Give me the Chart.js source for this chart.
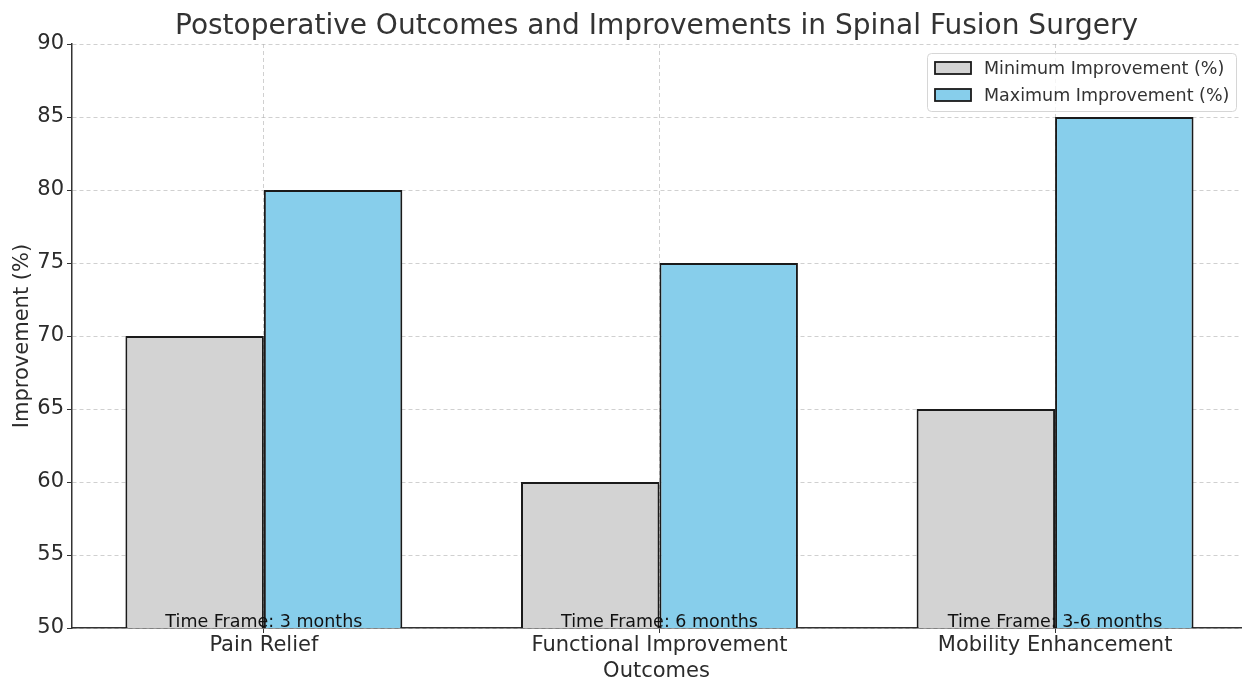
<!DOCTYPE html>
<html>
<head>
<meta charset="utf-8">
<script src="https://cdn.jsdelivr.net/npm/chart.js@4/dist/chart.umd.min.js"></script>
<style>
  html, body { margin: 0; padding: 0; background: #fff; }
  #wrap { width: 1243px; height: 682px; }
</style>
</head>
<body>
<div id="wrap"><canvas id="c" width="1243" height="682"></canvas></div>
<script>
// Outcome categories and their improvement ranges (%)
const outcomes = ['Pain Relief', 'Functional Improvement', 'Mobility Enhancement'];
const minImprovement = [70, 60, 65];
const maxImprovement = [80, 75, 85];
const timeFrames = ['Time Frame: 3 months', 'Time Frame: 6 months', 'Time Frame: 3-6 months'];
const yTickValues = [50, 55, 60, 65, 70, 75, 80, 85, 90];

const FONT = "'DejaVu Sans', 'Liberation Sans', sans-serif";
const TEXT = '#2b2b2b';

// Title centred over the plotting area
const titlePlugin = {
  id: 'plotTitle',
  afterDraw(chart) {
    const { ctx, chartArea } = chart;
    ctx.save();
    ctx.font = `28px ${FONT}`;
    ctx.fillStyle = '#333';
    ctx.textAlign = 'center';
    ctx.textBaseline = 'alphabetic';
    ctx.fillText('Postoperative Outcomes and Improvements in Spinal Fusion Surgery',
      (chartArea.left + chartArea.right) / 2, 34);
    ctx.restore();
  }
};

// "Time Frame" notes sitting on the baseline of each category
const timeFramePlugin = {
  id: 'timeFrames',
  afterDraw(chart) {
    const { ctx } = chart;
    const xs = chart.scales.x, ys = chart.scales.y;
    ctx.save();
    ctx.font = `17.5px ${FONT}`;
    ctx.fillStyle = '#111';
    ctx.textAlign = 'center';
    ctx.textBaseline = 'alphabetic';
    timeFrames.forEach((t, i) => {
      ctx.fillText(t, xs.getPixelForValue(i), ys.getPixelForValue(ys.min) - 1);
    });
    ctx.restore();
  }
};

// Legend box in the upper-right corner
const legendPlugin = {
  id: 'boxLegend',
  afterDraw(chart) {
    const { ctx, chartArea } = chart;
    const sets = chart.data.datasets;
    const right = chartArea.right - 5, top = chartArea.top + 9;
    const w = 309, h = 58;
    const left = right - w;
    ctx.save();
    ctx.fillStyle = 'rgba(255,255,255,0.8)';
    ctx.strokeStyle = '#d6d6d6';
    ctx.lineWidth = 1;
    ctx.beginPath();
    ctx.roundRect(left + 0.5, top + 0.5, w, h, 4);
    ctx.fill();
    ctx.stroke();
    ctx.font = `17.5px ${FONT}`;
    ctx.textBaseline = 'middle';
    ctx.textAlign = 'left';
    sets.forEach((ds, i) => {
      const cy = top + 15 + i * 27;
      ctx.fillStyle = ds.backgroundColor;
      ctx.fillRect(left + 8, cy - 6, 36, 12);
      ctx.strokeStyle = '#1a1a1a';
      ctx.lineWidth = 1.8;
      ctx.strokeRect(left + 8, cy - 6, 36, 12);
      ctx.fillStyle = '#333';
      ctx.fillText(ds.label, left + 57, cy + 1);
    });
    ctx.restore();
  }
};

const gridColor = 'rgba(176,176,176,0.6)';

new Chart(document.getElementById('c'), {
  type: 'bar',
  data: {
    datasets: [
      {
        label: 'Minimum Improvement (%)',
        data: outcomes.map((_, i) => ({ x: i, y: minImprovement[i] })),
        backgroundColor: '#d3d3d3',
        borderColor: '#1a1a1a',
        borderWidth: 2,
        borderSkipped: 'start'
      },
      {
        label: 'Maximum Improvement (%)',
        data: outcomes.map((_, i) => ({ x: i, y: maxImprovement[i] })),
        backgroundColor: '#87ceeb',
        borderColor: '#1a1a1a',
        borderWidth: 2,
        borderSkipped: 'start'
      }
    ]
  },
  options: {
    responsive: false,
    animation: false,
    devicePixelRatio: 1,
    categoryPercentage: 0.7,
    barPercentage: 1.0,
    layout: { padding: { top: 44, right: 2, left: 0, bottom: 0 } },
    plugins: {
      legend: { display: false },
      title: { display: false },
      tooltip: { enabled: false }
    },
    scales: {
      x: {
        type: 'linear',
        min: -0.485,
        max: 2.47,
        offset: false,
        z: 1,
        afterBuildTicks: s => { s.ticks = outcomes.map((_, i) => ({ value: i })); },
        afterFit: s => { s.height = 54; },
        ticks: {
          callback: v => outcomes[v],
          font: { family: FONT, size: 21 },
          color: TEXT,
          maxRotation: 0,
          autoSkip: false,
          padding: 0
        },
        grid: { offset: false, color: gridColor, lineWidth: 1, tickColor: '#333', tickLength: 5 },
        border: { display: true, color: '#333', width: 1.5, dash: [4, 3] },
        title: {
          display: true,
          text: 'Outcomes',
          font: { family: FONT, size: 21, lineHeight: 1.0 },
          color: TEXT,
          padding: { top: 0, bottom: 0 }
        }
      },
      y: {
        type: 'linear',
        min: 50,
        max: 90,
        z: 1,
        afterBuildTicks: s => { s.ticks = yTickValues.map(v => ({ value: v })); },
        afterFit: s => { s.width = 72; },
        ticks: {
          font: { family: FONT, size: 21 },
          color: TEXT,
          padding: 3
        },
        grid: { color: gridColor, lineWidth: 1, tickColor: '#333', tickLength: 5 },
        border: { display: true, color: '#333', width: 1.5, dash: [4, 3] },
        title: {
          display: true,
          text: 'Improvement (%)',
          font: { family: FONT, size: 21 },
          color: TEXT,
          padding: { top: 10, bottom: 0 }
        }
      }
    }
  },
  plugins: [titlePlugin, timeFramePlugin, legendPlugin]
});
</script>
</body>
</html>
